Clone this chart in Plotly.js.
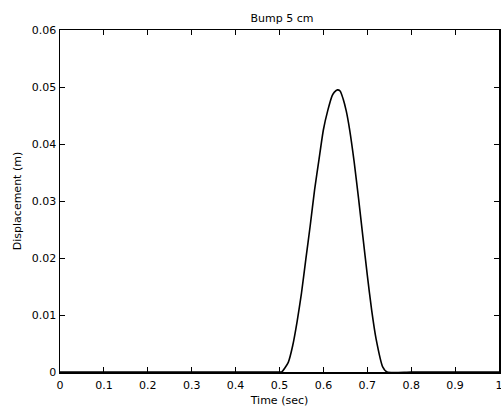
<!DOCTYPE html>
<html>
<head>
<meta charset="utf-8">
<script src="https://cdn.plot.ly/plotly-3.0.1.min.js"></script>
<style>html,body{margin:0;padding:0;background:#fff;}#chart{width:501px;height:410px;}</style>
</head>
<body>
<div id="chart"></div>
<script>
const timeSec = [0, 0.1, 0.2, 0.3, 0.4, 0.5, 0.505, 0.52, 0.53, 0.54, 0.55, 0.56, 0.57, 0.58, 0.59, 0.60, 0.61, 0.62, 0.625, 0.632, 0.638, 0.645, 0.652, 0.66, 0.67, 0.68, 0.69, 0.70, 0.71, 0.72, 0.735, 0.745, 0.8, 0.9, 1.0];
const displacement = [0, 0, 0, 0, 0, 0, 0, 0.0017, 0.0046, 0.0088, 0.0138, 0.0198, 0.0257, 0.032, 0.0373, 0.0425, 0.0459, 0.0485, 0.0491, 0.0495, 0.0493, 0.0479, 0.0458, 0.0424, 0.0369, 0.0305, 0.0237, 0.0170, 0.0108, 0.0058, 0.0009, 0, 0, 0, 0];
const xTicks = [0, 0.1, 0.2, 0.3, 0.4, 0.5, 0.6, 0.7, 0.8, 0.9, 1];
const xTickLabels = ["0", "0.1", "0.2", "0.3", "0.4", "0.5", "0.6", "0.7", "0.8", "0.9", "1"];
const yTicks = [0, 0.01, 0.02, 0.03, 0.04, 0.05, 0.06];
const yTickLabels = ["0", "0.01", "0.02", "0.03", "0.04", "0.05", "0.06"];

const fam = "DejaVu Sans, Liberation Sans, sans-serif";

Plotly.newPlot("chart", [{
  x: timeSec, y: displacement, type: "scatter", mode: "lines",
  line: {color: "#000", width: 1.6, shape: "spline", smoothing: 0.6}, hoverinfo: "skip"
}], {
  width: 501, height: 410,
  margin: {l: 60, r: 2, t: 30, b: 38},
  paper_bgcolor: "#fff", plot_bgcolor: "#fff",
  font: {family: fam, color: "#000", size: 11},
  showlegend: false,
  title: {text: "Bump 5 cm", font: {family: fam, size: 11, color: "#000"}, x: 0.563, xanchor: "center", y: 0.955, yanchor: "middle"},
  xaxis: {
    range: [0, 1], tickvals: xTicks, ticktext: xTickLabels,
    ticks: "inside", ticklen: 5, tickwidth: 1, tickcolor: "#000",
    showline: true, linecolor: "#000", linewidth: 1.5, mirror: "ticks",
    showgrid: false, zeroline: false, ticklabeloverflow: "allow",
    ticklabelstandoff: 2,
    tickfont: {family: fam, size: 11, color: "#000"},
    title: {text: "Time (sec)", font: {family: fam, size: 11, color: "#000"}, standoff: 5}
  },
  yaxis: {
    range: [0, 0.06], tickvals: yTicks, ticktext: yTickLabels,
    ticks: "inside", ticklen: 5, tickwidth: 1, tickcolor: "#000",
    showline: true, linecolor: "#000", linewidth: 1.5, mirror: "ticks",
    showgrid: false, zeroline: false,
    tickfont: {family: fam, size: 11, color: "#000"},
    title: {text: "Displacement (m)", font: {family: fam, size: 11, color: "#000"}, standoff: 8}
  }
}, {displayModeBar: false, staticPlot: true});
</script>
</body>
</html>
